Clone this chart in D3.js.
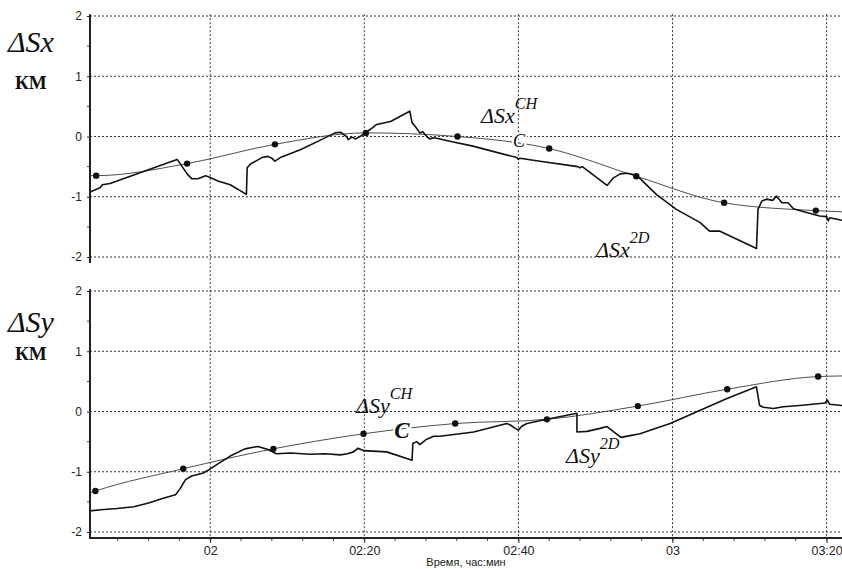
<!DOCTYPE html>
<html>
<head>
<meta charset="utf-8">
<title>ΔSx, ΔSy</title>
<style>
  body { margin: 0; background: #fff; }
  svg { display: block; }
</style>
</head>
<body>
<script src="https://cdn.jsdelivr.net/npm/d3@7/dist/d3.min.js"></script>
<script>
// time in minutes from 00:00, values in km

// top panel, ΔSx 2D (jagged)
const sx2dTime = [104.4, 105.7, 106.0, 107.0, 115.7, 116.1, 117.0, 117.6, 118.4, 119.4, 120.0, 121.0, 122.6, 124.7, 124.8,
  125.2, 126.7, 127.5, 128.0, 128.4, 129.1, 131.7, 134.3, 136.2, 136.9, 137.7, 137.9, 138.4, 138.9, 139.7, 140.1, 140.8,
  141.6, 143.4, 145.9, 146.2, 146.6, 147.2, 147.6, 148.1, 148.5, 148.9, 149.4, 151.1, 154.1, 159.8, 160.0, 160.2, 162.8,
  167.7, 168.0, 168.3, 171.5, 171.6, 172.3, 173.2, 174.1, 174.9, 175.8, 177.9, 180.5, 183.6, 184.8, 186.1, 190.9, 191.1,
  191.6, 192.2, 193.0, 193.5, 194.2, 195.0, 195.7, 197.4, 199.1, 200.0, 200.2, 200.4, 202.0];
const sx2dValue = [-0.92, -0.85, -0.80, -0.78, -0.38, -0.45, -0.62, -0.70, -0.70, -0.65, -0.68, -0.74, -0.80, -0.96, -0.52,
  -0.46, -0.35, -0.33, -0.36, -0.41, -0.35, -0.22, -0.06, 0.06, 0.07, 0.00, -0.05, -0.01, -0.04, 0.02, 0.06, 0.12,
  0.20, 0.25, 0.42, 0.23, 0.17, 0.06, 0.08, 0.00, -0.04, -0.02, -0.03, -0.08, -0.16, -0.35, -0.38, -0.36, -0.41,
  -0.50, -0.52, -0.50, -0.81, -0.80, -0.69, -0.62, -0.61, -0.63, -0.70, -0.96, -1.21, -1.43, -1.57, -1.57, -1.86, -1.21,
  -1.07, -1.04, -1.06, -0.99, -1.10, -1.10, -1.20, -1.26, -1.32, -1.33, -1.40, -1.35, -1.39];

// top panel, ΔSx CH (smooth) and its markers
const sxChTime = [104.4, 105.2, 117.0, 128.4, 140.2, 152.1, 164.0, 175.3, 186.7, 198.6, 202.0];
const sxChValue = [-0.65, -0.65, -0.45, -0.13, 0.06, 0.00, -0.20, -0.66, -1.10, -1.23, -1.25];

// bottom panel, ΔSy 2D (jagged)
const sy2dTime = [104.4, 105.8, 107.9, 110.1, 112.0, 113.9, 115.5, 116.1, 116.8, 117.6, 119.1, 119.9, 121.1, 122.6, 124.5,
  126.2, 127.5, 128.6, 130.4, 133.0, 134.9, 136.9, 137.8, 138.6, 139.2, 139.9, 142.9, 146.2, 146.3, 146.8, 147.2, 147.7,
  148.1, 148.5, 149.0, 149.8, 154.2, 158.5, 158.9, 159.6, 160.0, 160.4, 161.1, 163.7, 167.6, 167.6, 168.9, 170.6, 171.5,
  172.3, 173.3, 174.5, 175.8, 177.1, 179.7, 183.6, 187.0, 190.9, 191.3, 191.8, 193.1, 194.4, 196.5, 199.8, 200.1, 200.4, 202.0];
const sy2dValue = [-1.65, -1.63, -1.61, -1.58, -1.52, -1.44, -1.38, -1.28, -1.13, -1.07, -1.02, -0.96, -0.86, -0.74, -0.62,
  -0.58, -0.63, -0.70, -0.69, -0.71, -0.70, -0.72, -0.70, -0.67, -0.61, -0.65, -0.67, -0.81, -0.53, -0.50, -0.55, -0.50,
  -0.46, -0.44, -0.41, -0.41, -0.34, -0.20, -0.22, -0.28, -0.31, -0.25, -0.20, -0.13, -0.03, -0.34, -0.33, -0.28, -0.25,
  -0.33, -0.43, -0.40, -0.37, -0.31, -0.20, 0.02, 0.21, 0.41, 0.10, 0.07, 0.05, 0.08, 0.10, 0.14, 0.19, 0.12, 0.10];

// bottom panel, ΔSy CH (smooth) and its markers
const syChTime = [104.4, 105.1, 116.5, 128.2, 139.9, 151.8, 163.7, 175.5, 187.1, 198.9, 202.0];
const syChValue = [-1.35, -1.32, -0.95, -0.62, -0.37, -0.20, -0.13, 0.09, 0.37, 0.58, 0.59];

const yTicks = [-2, -1, 0, 1, 2];
const yMinorTicks = [-1.5, -0.5, 0.5, 1.5];
const timeStart = 104.4, timeEnd = 202.0;

// ---------------------------------------------------------------
const width = 842, height = 569;
const base = new Date(2000, 0, 1).getTime();
const toDate = m => new Date(base + m * 60000);

const x = d3.scaleTime()
  .domain([toDate(timeStart), toDate(timeEnd)])
  .range([90, 842]);

const panels = [
  { id: "sx", y: d3.scaleLinear().domain([-2, 2]).range([257, 16]),
    t2d: sx2dTime, v2d: sx2dValue, tCh: sxChTime, vCh: sxChValue },
  { id: "sy", y: d3.scaleLinear().domain([-2, 2]).range([532, 291]),
    t2d: sy2dTime, v2d: sy2dValue, tCh: syChTime, vCh: syChValue }
];

const svg = d3.select("body").append("svg")
  .attr("width", width)
  .attr("height", height)
  .style("font-family", "'Liberation Sans', Arial, sans-serif");

const majorTimes = d3.timeMinute.every(20).range(toDate(timeStart), toDate(timeEnd));
const minorTimes = d3.timeMinute.every(4).range(toDate(timeStart), toDate(timeEnd));
const fmtTime = d => d.getMinutes() ? d3.timeFormat("%H:%M")(d) : d3.timeFormat("%H")(d);

const gridColor = "#333";
const ySpanTop = panels[0].y(2.03), ySpanBottom = panels[1].y(-2.1);

// vertical grid, runs through both panels
svg.append("g").attr("id", "vgrid")
  .selectAll("line").data(majorTimes).enter()
  .append("line")
    .attr("x1", d => x(d)).attr("x2", d => x(d))
    .attr("y1", ySpanTop).attr("y2", ySpanBottom)
    .attr("stroke", gridColor).attr("stroke-width", 1)
    .attr("stroke-dasharray", "2,2");

panels.forEach(p => {
  const g = svg.append("g").attr("id", p.id);

  // horizontal grid
  g.append("g").selectAll("line").data(yTicks).enter()
    .append("line")
      .attr("x1", 90).attr("x2", 842)
      .attr("y1", d => p.y(d)).attr("y2", d => p.y(d))
      .attr("stroke", gridColor).attr("stroke-width", 1)
      .attr("stroke-dasharray", "2,2");

  // CH smooth line
  const chPts = p.tCh.map((t, i) => [x(toDate(t)), p.y(p.vCh[i])]);
  g.append("path")
    .attr("fill", "none")
    .attr("stroke", "#3a3a3a")
    .attr("stroke-width", 0.9)
    .attr("d", d3.line().curve(d3.curveMonotoneX)(chPts));

  // markers on CH line (not at the plot edges)
  g.append("g").selectAll("circle")
    .data(chPts.slice(1, -1)).enter()
    .append("circle")
      .attr("cx", d => d[0]).attr("cy", d => d[1])
      .attr("r", 3.2).attr("fill", "#111");

  // 2D line
  const pts2d = p.t2d.map((t, i) => [x(toDate(t)), p.y(p.v2d[i])]);
  g.append("path")
    .attr("fill", "none")
    .attr("stroke", "#111")
    .attr("stroke-width", 1.6)
    .attr("stroke-linejoin", "round")
    .attr("d", d3.line()(pts2d));

  // y axis
  const ay = g.append("g").attr("transform", "translate(90,0)")
    .call(d3.axisLeft(p.y).tickValues(yTicks).tickSize(3).tickPadding(5).tickFormat(d => String(d)));
  ay.select(".domain").remove();
  ay.selectAll("text").attr("font-size", 12).attr("fill", "#222")
    .attr("font-family", "'Liberation Sans', Arial, sans-serif");
  ay.selectAll("line").attr("stroke", "#222");
  g.append("g").selectAll("line").data(yMinorTicks).enter()
    .append("line")
      .attr("x1", 87).attr("x2", 90)
      .attr("y1", d => p.y(d)).attr("y2", d => p.y(d))
      .attr("stroke", "#444");
  g.append("line")
    .attr("x1", 90).attr("x2", 90)
    .attr("y1", p.y(2.03)).attr("y2", p.y(-2.1))
    .attr("stroke", "#222").attr("stroke-width", 2);
});

// x axis (bottom panel only)
const yAxisPos = panels[1].y(-2.1);
const ax = svg.append("g").attr("transform", `translate(0,${yAxisPos})`)
  .call(d3.axisBottom(x).tickValues(majorTimes).tickSize(5).tickPadding(3).tickFormat(fmtTime));
ax.select(".domain").remove();
ax.selectAll("text").attr("font-size", 12.5).attr("fill", "#222")
  .attr("font-family", "'Liberation Sans', Arial, sans-serif");
ax.selectAll("line").attr("stroke", "#222");
svg.append("g").selectAll("line").data(minorTimes).enter()
  .append("line")
    .attr("x1", d => x(d)).attr("x2", d => x(d))
    .attr("y1", yAxisPos).attr("y2", yAxisPos + 3)
    .attr("stroke", "#444");
svg.append("line")
  .attr("x1", 89).attr("x2", 842)
  .attr("y1", yAxisPos).attr("y2", yAxisPos)
  .attr("stroke", "#222").attr("stroke-width", 2);

svg.append("text")
  .attr("x", 466).attr("y", 566)
  .attr("text-anchor", "middle")
  .attr("font-size", 11).attr("fill", "#222")
  .text("Время, час:мин");

// labels
const serif = "'Liberation Serif', 'Times New Roman', serif";
const addLabel = (px, py, main, sup, size) => {
  const t = svg.append("text")
    .attr("x", px).attr("y", py)
    .attr("font-family", serif).attr("font-style", "italic")
    .attr("font-size", size).attr("fill", "#111");
  t.append("tspan").text(main);
  if (sup) t.append("tspan").attr("dy", -size * 0.62).attr("font-size", size * 0.74).text(sup);
};

addLabel(8, 52, "ΔSx", null, 30);
addLabel(8, 332, "ΔSy", null, 30);
[[89, "КМ"], [360, "КМ"]].forEach(([py, s]) => {
  svg.append("text").attr("x", 15).attr("y", py)
    .attr("font-family", serif).attr("font-size", 19).attr("font-weight", "bold").attr("fill", "#111")
    .text(s);
});

addLabel(481, 123, "ΔSx", "CH", 22);
addLabel(596, 257, "ΔSx", "2D", 22);
addLabel(356, 413, "ΔSy", "CH", 22);
addLabel(566, 463, "ΔSy", "2D", 22);

// "C" markers sitting on the CH lines
svg.append("text").attr("x", 519).attr("y", 147)
  .attr("text-anchor", "middle")
  .attr("font-family", serif).attr("font-style", "italic").attr("font-size", 18)
  .attr("fill", "#111").attr("stroke", "#fff").attr("stroke-width", 4)
  .attr("paint-order", "stroke")
  .text("C");
svg.append("text").attr("x", 402).attr("y", 438)
  .attr("text-anchor", "middle")
  .attr("font-family", serif).attr("font-style", "italic").attr("font-weight", "bold")
  .attr("font-size", 23)
  .attr("fill", "#111").attr("stroke", "#fff").attr("stroke-width", 4)
  .attr("paint-order", "stroke")
  .text("C");
</script>
</body>
</html>
